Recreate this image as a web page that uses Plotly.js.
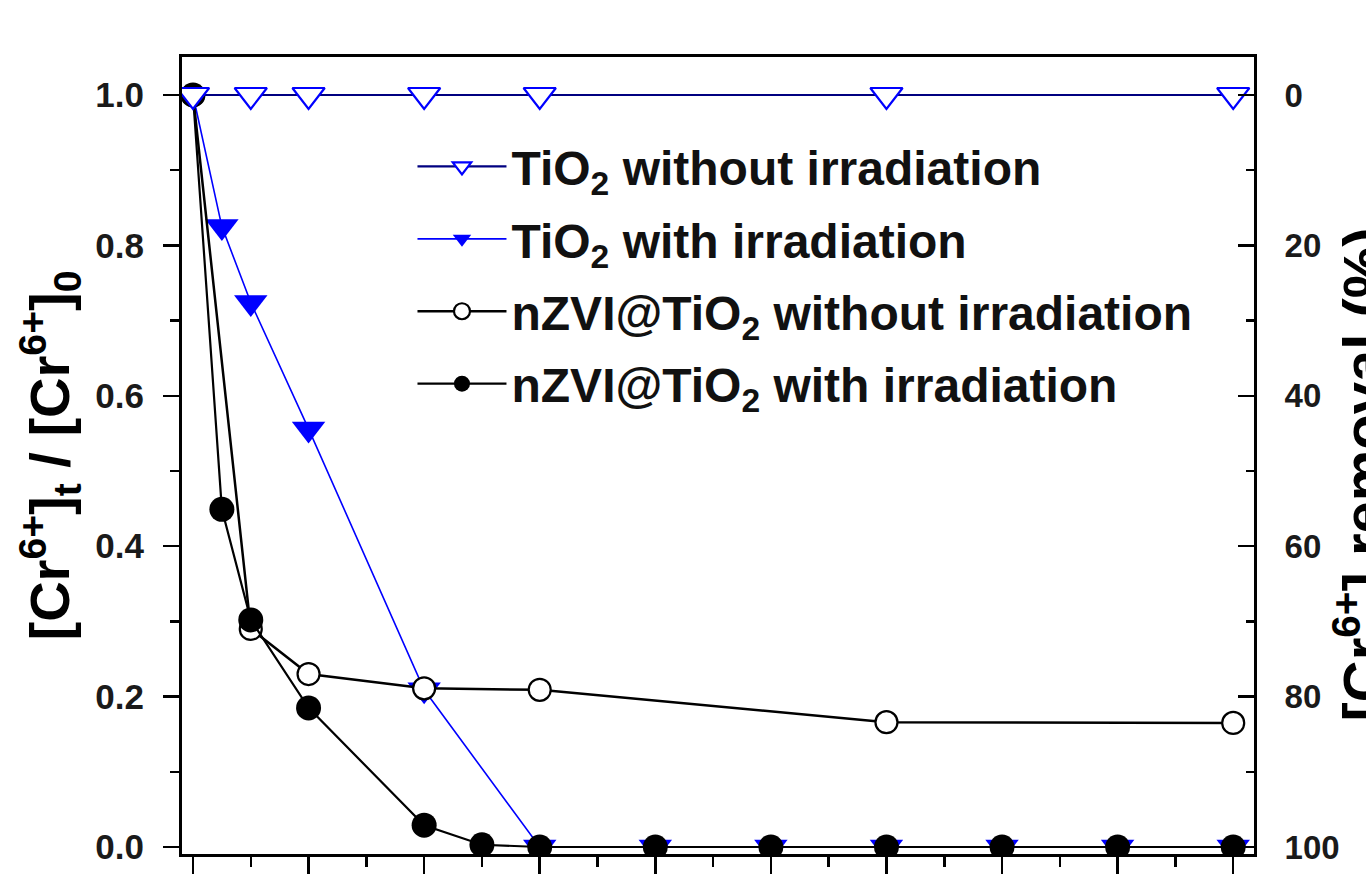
<!DOCTYPE html>
<html>
<head>
<meta charset="utf-8">
<script src="https://cdn.plot.ly/plotly-3.0.1.min.js"></script>
<style>html,body{margin:0;padding:0;background:#fff;} #chart{width:1366px;height:880px;}</style>
</head>
<body>
<div id="chart"></div>
<script>
// Time (min) and normalised Cr(VI) concentration [Cr6+]t/[Cr6+]0
var timeTiO2Dark = [0, 10, 20, 40, 60, 120, 180];
var ratioTiO2Dark = [1.0, 1.0, 1.0, 1.0, 1.0, 1.0, 1.0];

var timeTiO2Light = [0, 5, 10, 20, 40, 60, 80, 100, 120, 140, 160, 180];
var ratioTiO2Light = [1.0, 0.825, 0.724, 0.556, 0.209, 0, 0, 0, 0, 0, 0, 0];

var timeNzviDark = [0, 10, 20, 40, 60, 120, 180];
var ratioNzviDark = [1.0, 0.29, 0.23, 0.211, 0.209, 0.166, 0.165];

var timeNzviLight = [0, 5, 10, 20, 40, 50, 60, 80, 100, 120, 140, 160, 180];
var ratioNzviLight = [1.0, 0.449, 0.302, 0.185, 0.029, 0.003, 0, 0, 0, 0, 0, 0, 0];

// Right-hand axis: Cr(VI) removal (%)
var removalTicks = [0, 20, 40, 60, 80, 100];

var seriesNames = [
  'TiO<sub>2</sub> without irradiation',
  'TiO<sub>2</sub> with irradiation',
  'nZVI@TiO<sub>2</sub> without irradiation',
  'nZVI@TiO<sub>2</sub> with irradiation'
];
var leftTitle = '[Cr<sup>6+</sup>]<sub>t</sub> / [Cr<sup>6+</sup>]<sub>0</sub>';
var rightTitle = '[Cr<sup>6+</sup>] removal (%)';

var FONT = '"Liberation Sans", Arial, Helvetica, sans-serif';

var traces = [
  {
    x: timeTiO2Light, y: ratioTiO2Light, name: seriesNames[1], legendrank: 2, legendgroup: 'g2',
    type: 'scatter', mode: 'lines+markers',
    line: {color: '#0000ff', width: 1.6},
    marker: {symbol: 'triangle-down', size: 29, color: '#0000ff', line: {color: '#0000ff', width: 0}}
  },
  {
    x: timeNzviDark, y: ratioNzviDark, name: seriesNames[2], legendrank: 3, legendgroup: 'g3',
    type: 'scatter', mode: 'lines+markers',
    line: {color: '#000000', width: 2.5},
    marker: {symbol: 'circle', size: 22, color: '#ffffff', line: {color: '#000000', width: 2.2}}
  },
  {
    x: timeNzviLight, y: ratioNzviLight, name: seriesNames[3], legendrank: 4, legendgroup: 'g4',
    type: 'scatter', mode: 'lines+markers',
    line: {color: '#000000', width: 2.2},
    marker: {symbol: 'circle', size: 25, color: '#000000', line: {color: '#000000', width: 0}}
  },
  {
    x: timeTiO2Dark, y: ratioTiO2Dark, name: seriesNames[0], legendrank: 1, legendgroup: 'g1',
    type: 'scatter', mode: 'lines+markers',
    line: {color: '#000080', width: 2.2},
    marker: {symbol: 'triangle-down', size: 28, color: '#ffffff', line: {color: '#0000ff', width: 2.2}}
  },
  {
    // carrier for the right-hand removal axis (draws nothing)
    x: [], y: [], yaxis: 'y2', type: 'scatter', mode: 'markers',
    showlegend: false, hoverinfo: 'skip'
  }
];

var tickFontL = {family: FONT, size: 35, color: '#1a1a1a', weight: 'bold'};
var tickFontR = {family: FONT, size: 33, color: '#1a1a1a', weight: 'bold'};

var layout = {
  width: 1366, height: 880,
  margin: {l: 182, r: 112, t: 57, b: 26, pad: 0},
  paper_bgcolor: '#ffffff', plot_bgcolor: '#ffffff',
  showlegend: true,
  legend: {
    x: 0.215, y: 0.91, xanchor: 'left', yanchor: 'top',
    bgcolor: 'rgba(0,0,0,0)', borderwidth: 0,
    font: {family: FONT, size: 48, color: '#111111', weight: 'bold'},
    itemwidth: 89, tracegroupgap: 7, traceorder: 'grouped'
  },
  xaxis: {
    range: [-1.9, 183.6],
    showline: true, linecolor: '#000', linewidth: 3, mirror: true,
    ticks: 'outside', ticklen: 17, tickwidth: 2.5, tickcolor: '#000',
    tick0: 0, dtick: 20,
    minor: {dtick: 10, ticks: 'outside', ticklen: 10, tickwidth: 2.5, tickcolor: '#000', showgrid: false},
    showticklabels: false, showgrid: false, zeroline: false
  },
  yaxis: {
    range: [-0.0093, 1.0505],
    showline: true, linecolor: '#000', linewidth: 3,
    ticks: 'outside', ticklen: 16, tickwidth: 2.5, tickcolor: '#000',
    tick0: 0, dtick: 0.2, tickformat: '.1f',
    minor: {dtick: 0.1, ticks: 'outside', ticklen: 9, tickwidth: 2.5, tickcolor: '#000', showgrid: false},
    tickfont: tickFontL, ticklabelstandoff: 12,
    showgrid: false, zeroline: false,
    title: {
      text: leftTitle,
      font: {family: FONT, size: 56, color: '#000', weight: 'bold'},
      standoff: 8
    }
  },
  yaxis2: {
    overlaying: 'y', side: 'right', anchor: 'x',
    range: [100.93, -5.05],
    showline: true, linecolor: '#000', linewidth: 3,
    ticks: 'inside', ticklen: 16, tickwidth: 2.5, tickcolor: '#000',
    tickmode: 'array', tickvals: removalTicks, ticktext: removalTicks.map(String),
    minor: {dtick: 10, ticks: 'inside', ticklen: 8, tickwidth: 2.5, tickcolor: '#000', showgrid: false},
    tickfont: tickFontR, ticklabelstandoff: 21,
    showgrid: false, zeroline: false
  },
  annotations: [
    {
      // title of the right-hand axis (partly cut by the page edge, as in the reference)
      text: rightTitle, textangle: -90,
      xref: 'paper', yref: 'paper', x: 1.0616, y: 0.4755,
      xanchor: 'left', yanchor: 'middle', showarrow: false,
      font: {family: FONT, size: 58, color: '#000', weight: 'bold'}
    }
  ]
};

Plotly.newPlot('chart', traces, layout, {displayModeBar: false, staticPlot: true});
</script>
</body>
</html>
